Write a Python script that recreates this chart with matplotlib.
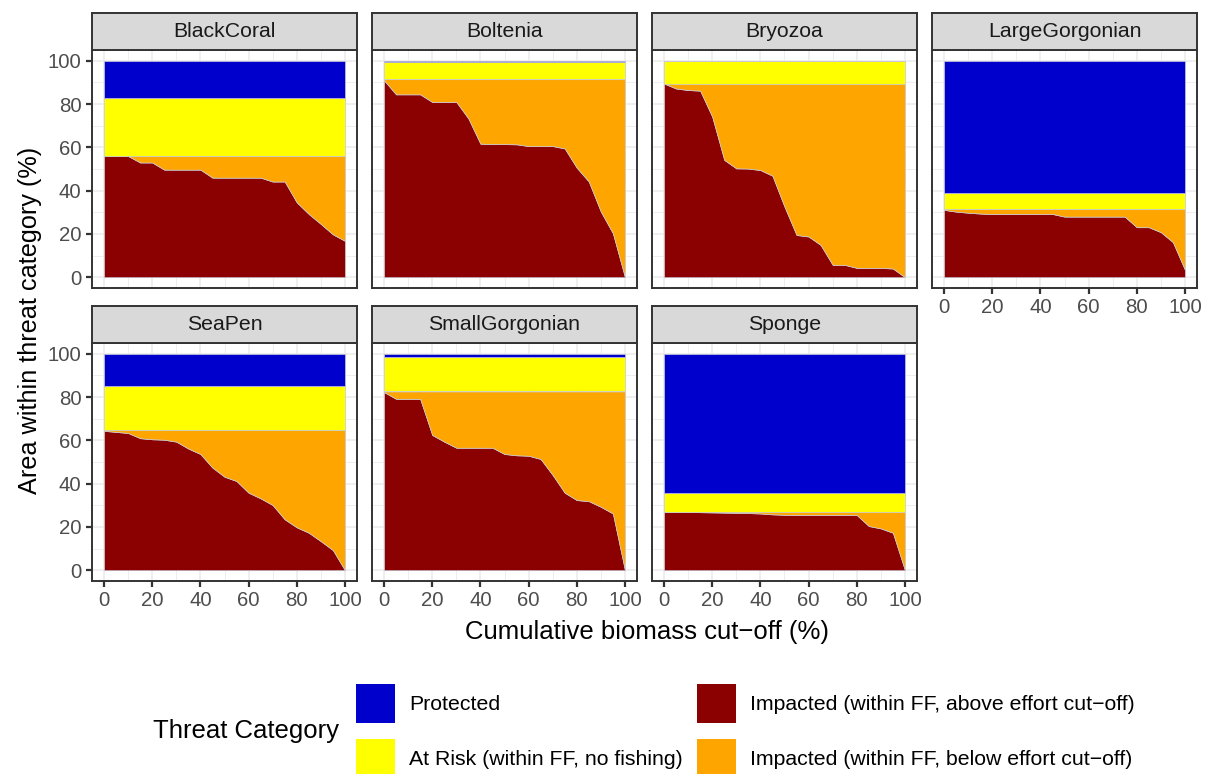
import numpy as np
import matplotlib
matplotlib.use("Agg")
import matplotlib.pyplot as plt
from matplotlib.patches import Patch

plt.rcParams['font.family'] = ['Liberation Sans', 'DejaVu Sans']

# cumulative biomass cut-off (%)
cutoff = [0, 5, 10, 15, 20, 25, 30, 35, 40, 45, 50, 55, 60, 65, 70, 75, 80, 85, 90, 95, 100]

species = ['BlackCoral', 'Boltenia', 'Bryozoa', 'LargeGorgonian',
           'SeaPen', 'SmallGorgonian', 'Sponge']

# share of area in each threat category (%), constant over cut-off
protected = [17.4, 0.4, 0.0, 60.9, 14.7, 1.5, 64.2]
at_risk = [26.6, 8.1, 10.5, 7.6, 20.5, 15.9, 8.8]
impacted = [56.0, 91.5, 89.5, 31.5, 64.8, 82.6, 27.0]

# impacted area above the effort cut-off, per biomass cut-off
above_cutoff = {
    'BlackCoral': [56, 56, 56, 53, 53, 49.7, 49.7, 49.7, 49.7, 46, 46, 46, 46, 46,
                   44.2, 44.2, 34.6, 29.2, 24.6, 19.8, 16.8],
    'Boltenia': [91, 84.5, 84.5, 84.5, 81, 81, 81, 73.4, 61.7, 61.5, 61.5, 61.4,
                 60.6, 60.6, 60.6, 59.5, 50.6, 44.2, 30.3, 20.3, 0],
    'Bryozoa': [89.5, 87.2, 86.5, 86.2, 74.2, 54.2, 50.3, 50.2, 49.5, 46.9, 32.6,
                19.5, 18.8, 14.9, 5.7, 5.7, 4.3, 4.3, 4.3, 4.0, 0],
    'LargeGorgonian': [31.1, 30.3, 29.8, 29.4, 29.2, 29.2, 29.2, 29.2, 29.2, 29.2,
                       28, 28, 28, 28, 28, 28, 23.1, 23.1, 20.8, 16.2, 3.4],
    'SeaPen': [64.4, 63.9, 63.4, 61, 60.5, 60.3, 59.4, 56.2, 53.7, 47.4, 43.2, 41.2,
               35.8, 33.2, 30.1, 23.5, 19.8, 17.3, 13.4, 9.3, 0],
    'SmallGorgonian': [82.3, 79.2, 79.2, 79.2, 62.5, 59.4, 56.6, 56.6, 56.6, 56.6,
                       53.7, 53.1, 52.9, 51.4, 44, 35.8, 32.4, 31.9, 29.3, 26.2, 0],
    'Sponge': [26.9, 26.9, 26.9, 26.8, 26.7, 26.6, 26.5, 26.4, 26.2, 25.8, 25.6,
               25.5, 25.5, 25.5, 25.5, 25.5, 25.5, 20.4, 19.3, 17.3, 0],
}

labels = ['Protected', 'At Risk (within FF, no fishing)',
          'Impacted (within FF, above effort cut\u2212off)',
          'Impacted (within FF, below effort cut\u2212off)']
colors = {'Protected': '#0000CD', 'At Risk': '#FFFF00',
          'above': '#8B0000', 'below': '#FFA500'}

W, H = 1209, 774
fig = plt.figure(figsize=(W / 100, H / 100), dpi=100)

col_left = [92, 372, 652, 932]
row_top = [50, 343]
pw, ph, sh = 265, 238, 37
dark = '#333333'


def rect(left, top, w, h):
    return [left / W, 1 - (top + h) / H, w / W, h / H]


for i, name in enumerate(species):
    r, c = divmod(i, 4)
    ax = fig.add_axes(rect(col_left[c], row_top[r], pw, ph))
    x = np.array(cutoff)
    above = np.array(above_cutoff[name])
    below = impacted[i] - above
    ax.stackplot(x, above, below,
                 np.full(len(x), at_risk[i]), np.full(len(x), protected[i]),
                 colors=[colors['above'], colors['below'],
                         colors['At Risk'], colors['Protected']],
                 edgecolor='#C8C8D8', linewidth=0.5)
    ax.set_xlim(-5, 105)
    ax.set_ylim(-5, 105)
    ax.set_xticks([0, 20, 40, 60, 80, 100])
    ax.set_yticks([0, 20, 40, 60, 80, 100])
    ax.set_xticks([10, 30, 50, 70, 90], minor=True)
    ax.set_yticks([10, 30, 50, 70, 90], minor=True)
    ax.grid(which='major', color='#EBEBEB', linewidth=1.1)
    ax.grid(which='minor', color='#EBEBEB', linewidth=0.6)
    ax.set_axisbelow(True)
    for s in ax.spines.values():
        s.set_color(dark)
        s.set_linewidth(1.4)
    ax.tick_params(which='minor', length=0)
    ax.tick_params(which='major', length=4.5, width=1.6, color=dark,
                   labelsize=14.7, labelcolor='#4D4D4D', pad=3)
    if c != 0:
        ax.tick_params(axis='y', which='major', length=0, labelleft=False)
    if not (r == 1 or c == 3):
        ax.tick_params(axis='x', which='major', length=0, labelbottom=False)

    # facet strip
    st = fig.add_axes(rect(col_left[c], row_top[r] - sh, pw, sh))
    st.set_facecolor('#D9D9D9')
    st.set_xticks([])
    st.set_yticks([])
    for s in st.spines.values():
        s.set_color(dark)
        s.set_linewidth(1.4)
    st.text(0.5, 0.5, name, ha='center', va='center', fontsize=15.3,
            color='#1A1A1A', transform=st.transAxes)

fig.text(647 / W, 1 - 632 / H, 'Cumulative biomass cut\u2212off (%)',
         ha='center', va='center', fontsize=18.5)
fig.text(30 / W, 1 - 320 / H, 'Area within threat category (%)',
         ha='center', va='center', rotation=90, fontsize=18.2)

handles = [Patch(facecolor=colors['Protected']), Patch(facecolor=colors['At Risk']),
           Patch(facecolor=colors['above']), Patch(facecolor=colors['below'])]
fig.legend(handles, labels, ncol=2, loc='upper left',
           bbox_to_anchor=(356 / W, 1 - 684 / H), frameon=False, fontsize=15.3,
           borderpad=0, handlelength=1.83, handleheight=2.45,
           labelspacing=0.75, handletextpad=0.68, columnspacing=0.65,
           borderaxespad=0)
fig.text(153 / W, 1 - 731 / H, 'Threat Category', ha='left', va='center',
         fontsize=18.5)

fig.savefig('out.png', dpi=100)
